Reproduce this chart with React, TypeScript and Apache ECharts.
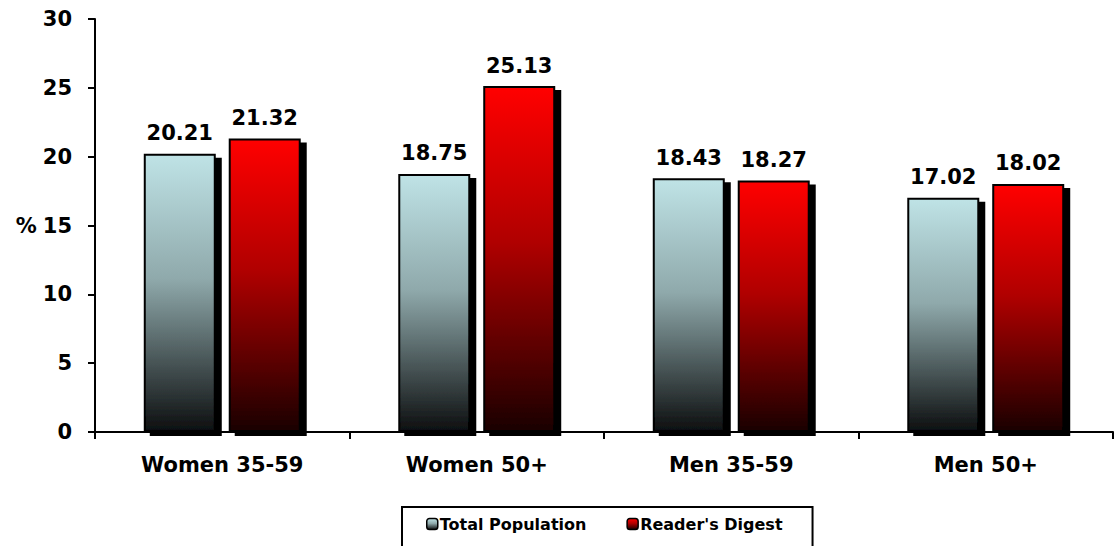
import React, { useEffect, useRef } from "react";
import * as echarts from "echarts";

const categories = ["Women 35-59", "Women 50+", "Men 35-59", "Men 50+"];
const totalPopulation = [20.21, 18.75, 18.43, 17.02];
const readersDigest = [21.32, 25.13, 18.27, 18.02];
const yTicks = { min: 0, max: 30, interval: 5 };

const FONT = "'DejaVu Sans', 'Liberation Sans', Arial, sans-serif";

export default function App() {
  const ref = useRef<HTMLDivElement>(null);
  useEffect(() => {
    if (!ref.current) return;
    const chart = echarts.init(ref.current, null, { renderer: "svg" });
    const shadow = {
      shadowColor: "#000",
      shadowOffsetX: 6,
      shadowOffsetY: 4,
      shadowBlur: 0,
    };
    const label = {
      show: true,
      position: "top",
      distance: 10,
      color: "#000",
      fontFamily: FONT,
      fontWeight: "bold",
      fontSize: 21,
      formatter: (p: any) => p.value.toFixed(2),
    };
    chart.setOption({
      animation: false,
      grid: { left: 95, right: 2, top: 19, bottom: 114 },
      legend: {
        top: 507,
        left: 402,
        itemWidth: 11,
        itemHeight: 11,
        itemGap: 40,
        padding: [9, 30, 30, 24],
        borderColor: "#000",
        borderWidth: 2,
        textStyle: { color: "#000", fontFamily: FONT, fontWeight: "bold", fontSize: 16, padding: [0, 0, 0, -3] },
        itemStyle: { borderColor: "#000", borderWidth: 1.5, shadowBlur: 0, shadowOffsetX: 0, shadowOffsetY: 0, shadowColor: "transparent" },
        data: ["Total Population", "Reader's Digest"],
      },
      xAxis: {
        type: "category",
        data: categories,
        axisLine: { lineStyle: { color: "#000", width: 2 } },
        axisTick: { show: true, length: 7, lineStyle: { color: "#000", width: 2 } },
        axisLabel: { color: "#000", fontFamily: FONT, fontWeight: "bold", fontSize: 21, margin: 22 },
      },
      yAxis: {
        type: "value",
        min: yTicks.min,
        max: yTicks.max,
        interval: yTicks.interval,
        name: "%",
        nameLocation: "middle",
        nameRotate: 0,
        nameGap: 57,
        nameTextStyle: { color: "#000", fontFamily: FONT, fontWeight: "bold", fontSize: 21 },
        axisLine: { show: true, lineStyle: { color: "#000", width: 2 } },
        axisTick: { show: true, length: 7, lineStyle: { color: "#000", width: 2 } },
        axisLabel: { color: "#000", fontFamily: FONT, fontWeight: "bold", fontSize: 21, margin: 23 },
        splitLine: { show: false },
      },
      series: [
        {
          name: "Total Population",
          type: "bar",
          data: totalPopulation,
          barWidth: 72,
          barGap: "18%",
          itemStyle: {
            color: new echarts.graphic.LinearGradient(0, 0, 0, 1, [
              { offset: 0, color: "#bfe3e6" },
              { offset: 0.45, color: "#8fa9ab" },
              { offset: 1, color: "#0d0f10" },
            ]),
            borderColor: "#000",
            borderWidth: 2,
            ...shadow,
          },
          label,
        },
        {
          name: "Reader's Digest",
          type: "bar",
          data: readersDigest,
          barWidth: 72,
          itemStyle: {
            color: new echarts.graphic.LinearGradient(0, 0, 0, 1, [
              { offset: 0, color: "#ff0000" },
              { offset: 0.45, color: "#b00000" },
              { offset: 1, color: "#1a0000" },
            ]),
            borderColor: "#000",
            borderWidth: 2,
            ...shadow,
          },
          label,
        },
      ],
    });
    return () => chart.dispose();
  }, []);
  return <div ref={ref} style={{ width: 1115, height: 546, position: "absolute", left: 0, top: 0 }} />;
}
